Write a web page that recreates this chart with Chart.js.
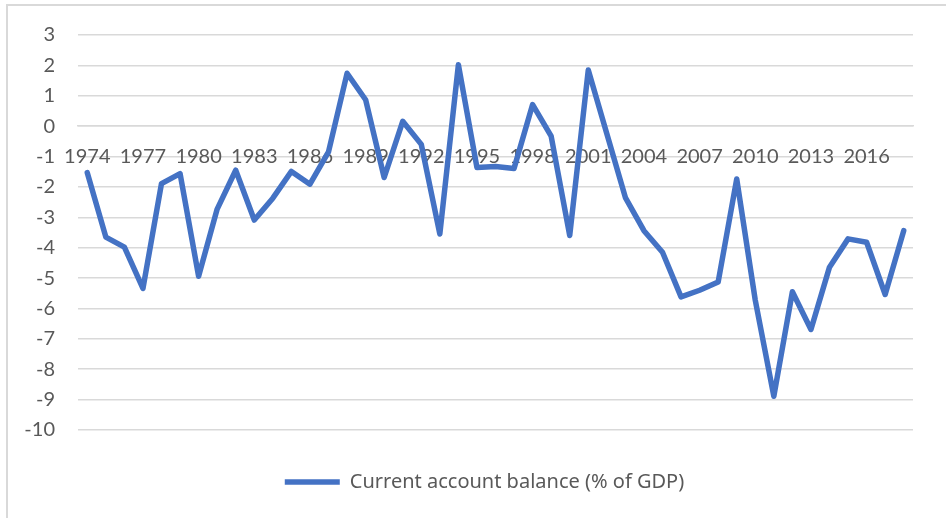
<!DOCTYPE html>
<html>
<head>
<meta charset="utf-8">
<script src="https://cdn.jsdelivr.net/npm/chart.js@4"></script>
<style>
  html, body { margin: 0; padding: 0; background: #fff; }
  #wrap { position: relative; width: 946px; height: 518px; overflow: hidden; }
  #frame {
    position: absolute; left: 6px; top: 4px; width: 960px; height: 530px;
    border-left: 2px solid #d9d9d9; border-top: 2px solid #d9d9d9;
  }
  #chartJSContainer { position: absolute; left: 0; top: 0; }
</style>
</head>
<body>
<div id="wrap">
  <div id="frame"></div>
  <canvas id="chartJSContainer" width="946" height="518"></canvas>
</div>
<script>
// years on the category axis
const years = ['1974', '1975', '1976', '1977', '1978', '1979', '1980', '1981', '1982', '1983',
  '1984', '1985', '1986', '1987', '1988', '1989', '1990', '1991', '1992', '1993',
  '1994', '1995', '1996', '1997', '1998', '1999', '2000', '2001', '2002', '2003',
  '2004', '2005', '2006', '2007', '2008', '2009', '2010', '2011', '2012', '2013',
  '2014', '2015', '2016', '2017', '2018']

// only every third year gets a label
const shownYears = ['1974', '1977', '1980', '1983', '1986', '1989', '1992', '1995',
  '1998', '2001', '2004', '2007', '2010', '2013', '2016']

// current account balance, % of GDP
const balance = [-1.53, -3.65, -3.98, -5.34, -1.89, -1.56, -4.94, -2.73, -1.45, -3.09,
  -2.37, -1.49, -1.91, -0.85, 1.74, 0.87, -1.69, 0.16, -0.60, -3.55,
  2.02, -1.36, -1.33, -1.39, 0.71, -0.33, -3.60, 1.85, -0.25, -2.35,
  -3.44, -4.15, -5.62, -5.40, -5.13, -1.74, -5.73, -8.89, -5.45, -6.69,
  -4.64, -3.71, -3.82, -5.54, -3.44]

const yMin = -10
const yMax = 3

const textColor = '#595959'
const gridColor = '#d9d9d9'
const tickFont = { family: 'Lato, "Noto Sans", sans-serif', size: 20 }
const legendFont = { family: '"Noto Sans", Lato, sans-serif', size: 20 }

// nudge the legend sideways, Excel centres it a bit left of the plot centre
const legendShift = {
    id: 'legendShift',
    afterLayout(chart) {
        const dx = -11
        chart.legend.left += dx
        chart.legend.right += dx
    }
}

let options = {
    type: 'line',
    data: {
        labels: years,
        datasets: [{
            label: 'Current account balance (% of GDP)',
            data: balance,
            fill: false,
            tension: 0,
            borderWidth: 5.5,
            borderColor: '#4472C4',
            backgroundColor: '#4472C4',
            borderJoinStyle: 'round',
            borderCapStyle: 'round',
            pointRadius: 0,
            pointStyle: 'line',
        }]
    },
    options: {
        responsive: false,
        animation: false,
        layout: {
            padding: { left: 0, top: 33, right: 33, bottom: 16 }
        },
        scales: {
            x: {
                type: 'category',
                offset: true,
                position: { y: 0 },
                grid: { display: false, drawTicks: false },
                border: { display: true, color: gridColor, width: 1.5 },
                ticks: {
                    autoSkip: false,
                    maxRotation: 0,
                    padding: 18,
                    color: textColor,
                    font: tickFont,
                    callback: function(value, index) {
                        const lab = years[index]
                        return shownYears.includes(lab) ? lab : ''
                    }
                }
            },
            y: {
                min: yMin,
                max: yMax,
                grid: { color: gridColor, lineWidth: 1.5, drawTicks: false },
                border: { display: false },
                ticks: {
                    stepSize: 1,
                    padding: 23,
                    color: textColor,
                    font: tickFont
                },
                afterFit: (scale) => { scale.width = 78 }
            }
        },
        plugins: {
            tooltip: { enabled: false },
            legend: {
                position: 'bottom',
                fullSize: false,
                labels: {
                    usePointStyle: true,
                    pointStyle: 'line',
                    pointStyleWidth: 55,
                    padding: 42,
                    color: textColor,
                    font: legendFont
                }
            }
        }
    },
    plugins: [legendShift]
}

let ctx = document.getElementById('chartJSContainer').getContext('2d')
window.chart = new Chart(ctx, options)
</script>
</body>
</html>
